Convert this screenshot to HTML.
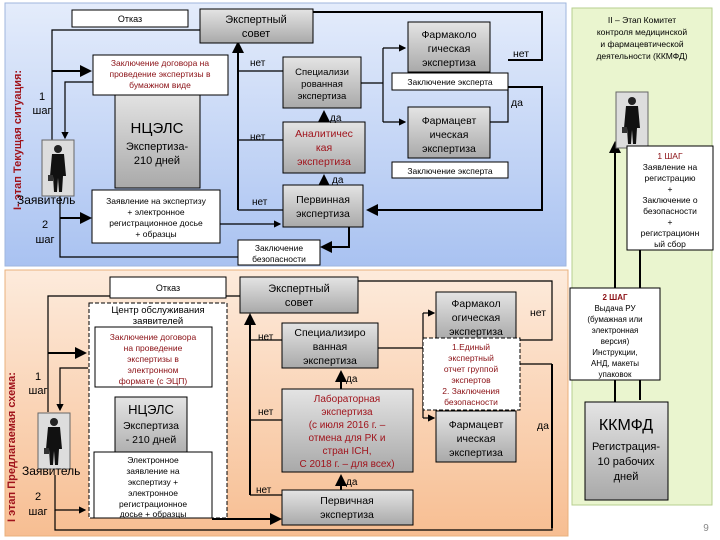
<!DOCTYPE html>
<html><head><meta charset="utf-8"><style>
html,body{margin:0;padding:0;background:#fff;}
svg{display:block;font-family:"Liberation Sans",sans-serif;}
</style></head><body>
<svg width="720" height="540" viewBox="0 0 720 540" xmlns="http://www.w3.org/2000/svg">
<defs>
<linearGradient id="blue" x1="0" y1="0" x2="0" y2="1"><stop offset="0" stop-color="#e4ecfb"/><stop offset="1" stop-color="#a9c2f1"/></linearGradient>
<linearGradient id="orng" x1="0" y1="0" x2="0" y2="1"><stop offset="0" stop-color="#fdebdc"/><stop offset="1" stop-color="#f7be92"/></linearGradient>
<linearGradient id="grey" x1="0" y1="0" x2="0" y2="1"><stop offset="0" stop-color="#e4e4e4"/><stop offset="1" stop-color="#a9a9a9"/></linearGradient>
<marker id="a" markerWidth="6" markerHeight="6" refX="5" refY="3" orient="auto"><path d="M0,0L6,3L0,6z" fill="#000"/></marker>
<g id="man"><rect x="0" y="0" width="32" height="56" fill="#ddd" stroke="#666"/><circle cx="16" cy="9" r="4" fill="#222"/><path d="M10,14h12l2,22h-3l-1,16h-3l-1-14l-1,14h-3l-1-16h-3z" fill="#111"/><rect x="6" y="35" width="5" height="6" fill="#333"/></g>
</defs>
<rect x="5" y="3" width="561" height="263" fill="url(#blue)" stroke="#9fb6de"/>
<rect x="5" y="270" width="563" height="266" fill="url(#orng)" stroke="#e9b07c"/>
<rect x="572" y="8" width="140" height="497" fill="#eaf5cf" stroke="#b7cf8f"/>

<g stroke="#000" stroke-width="1.2" fill="none">
<path d="M52,140V30H200"/>
<path d="M52,71H90" stroke-width="2" marker-end="url(#a)"/>
<path d="M93,82H65V138" marker-end="url(#a)"/>
<path d="M60,218H90" stroke-width="2" marker-end="url(#a)"/>
<path d="M60,195V257H238"/>
<path d="M220,224H280" marker-end="url(#a)"/>
<path d="M238,210V43" stroke-width="2" marker-end="url(#a)"/>
<path d="M238,71H283M238,140H283M238,210H283"/>
<path d="M324,122V112" stroke-width="2" marker-end="url(#a)"/>
<path d="M324,185V176" stroke-width="2" marker-end="url(#a)"/>
<path d="M360,83H383M383,48V122"/>
<path d="M383,48H405" marker-end="url(#a)"/><path d="M383,122H405" marker-end="url(#a)"/>
<path d="M313,12H542V60H508" stroke-width="2"/>
<path d="M508,87H542V210H368" stroke-width="2" marker-end="url(#a)"/>
<path d="M508,87V122H490"/>
<path d="M349,227V247H322" stroke-width="2" marker-end="url(#a)"/>
<path d="M615,245V143" stroke-width="2" marker-end="url(#a)"/>
<path d="M640,140V146"/>
<path d="M640,250V290M615,245V290" stroke-width="2"/>
<path d="M615,380V402M640,380V400" stroke-width="2"/>
<path d="M48,412V296H240"/>
<path d="M48,353H85" stroke-width="2" marker-end="url(#a)"/>
<path d="M88,368H60V410" marker-end="url(#a)"/>
<path d="M55,475V510H85" marker-end="url(#a)"/>
<path d="M55,510V530H552V364"/>
<path d="M212,519H280" stroke-width="2" marker-end="url(#a)"/>
<path d="M250,495V315" stroke-width="2" marker-end="url(#a)"/>
<path d="M250,340H282M250,420H282M250,495H282"/>
<path d="M341,389V372" stroke-width="2" marker-end="url(#a)"/>
<path d="M341,490V476" stroke-width="2" marker-end="url(#a)"/>
<path d="M378,348H423M423,313V418"/>
<path d="M423,313H434" marker-end="url(#a)"/><path d="M423,418H434" marker-end="url(#a)"/>
<path d="M358,281H552V340H516"/>
<path d="M520,364H552M520,404H516"/>
<path d="M552,364V528" stroke-width="2"/>
</g>

<rect x="72" y="10" width="116" height="17" fill="#fff" stroke="#000"/>
<text x="130" y="22" font-size="9" text-anchor="middle">Отказ</text>
<rect x="200" y="9" width="113" height="34" fill="url(#grey)" stroke="#000"/>
<text x="256" y="23" font-size="11" text-anchor="middle">Экспертный</text>
<text x="256" y="37" font-size="11" text-anchor="middle">совет</text>
<text transform="translate(21,210) rotate(-90)" font-size="11" font-weight="bold" fill="#a0141c">I- этап Текущая ситуация:</text>
<rect x="115" y="92" width="85" height="96" fill="url(#grey)" stroke="#000"/>
<rect x="93" y="55" width="135" height="40" fill="#fff" stroke="#000"/>
<g font-size="8.5" fill="#8b1015" text-anchor="middle"><text x="160" y="66">Заключение договора на</text><text x="160" y="77">проведение экспертизы в</text><text x="160" y="88">бумажном виде</text></g>
<text x="157" y="133" font-size="15" text-anchor="middle">НЦЭЛС</text>
<text x="157" y="150" font-size="11" text-anchor="middle">Экспертиза-</text>
<text x="157" y="164" font-size="11" text-anchor="middle">210 дней</text>
<use href="#man" x="42" y="140"/>
<text x="42" y="100" font-size="11" text-anchor="middle">1</text><text x="42" y="114" font-size="11" text-anchor="middle">шаг</text>
<text x="17" y="204" font-size="12">Заявитель</text>
<text x="45" y="228" font-size="11" text-anchor="middle">2</text><text x="45" y="243" font-size="11" text-anchor="middle">шаг</text>
<rect x="92" y="190" width="128" height="53" fill="#fff" stroke="#000"/>
<g font-size="8.5" text-anchor="middle"><text x="156" y="204">Заявление на экспертизу</text><text x="156" y="215">+ электронное</text><text x="156" y="226">регистрационное досье</text><text x="156" y="237">+ образцы</text></g>
<rect x="238" y="240" width="82" height="25" fill="#fff" stroke="#000"/>
<text x="279" y="251" font-size="8.5" text-anchor="middle">Заключение</text><text x="279" y="262" font-size="8.5" text-anchor="middle">безопасности</text>
<rect x="283" y="57" width="78" height="51" fill="url(#grey)" stroke="#000"/>
<g font-size="9.5" text-anchor="middle"><text x="322" y="75">Специализи</text><text x="322" y="87">рованная</text><text x="322" y="99">экспертиза</text></g>
<rect x="283" y="122" width="82" height="51" fill="url(#grey)" stroke="#000"/>
<g font-size="10.5" text-anchor="middle" fill="#a0141c"><text x="324" y="137">Аналитичес</text><text x="324" y="151">кая</text><text x="324" y="165">экспертиза</text></g>
<rect x="283" y="185" width="80" height="42" fill="url(#grey)" stroke="#000"/>
<text x="323" y="203" font-size="10.5" text-anchor="middle">Первинная</text><text x="323" y="217" font-size="10.5" text-anchor="middle">экспертиза</text>
<g font-size="10"><text x="250" y="66">нет</text><text x="250" y="140">нет</text><text x="252" y="205">нет</text><text x="330" y="121">да</text><text x="332" y="183">да</text></g>
<rect x="408" y="22" width="82" height="50" fill="url(#grey)" stroke="#000"/>
<g font-size="10.5" text-anchor="middle"><text x="449" y="38">Фармаколо</text><text x="449" y="52">гическая</text><text x="449" y="66">экспертиза</text></g>
<rect x="392" y="73" width="116" height="17" fill="#fff" stroke="#000"/>
<text x="450" y="85" font-size="8.5" text-anchor="middle">Заключение эксперта</text>
<rect x="408" y="107" width="82" height="51" fill="url(#grey)" stroke="#000"/>
<g font-size="10.5" text-anchor="middle"><text x="449" y="124">Фармацевт</text><text x="449" y="138">ическая</text><text x="449" y="152">экспертиза</text></g>
<rect x="392" y="162" width="116" height="16" fill="#fff" stroke="#000"/>
<text x="450" y="174" font-size="8.5" text-anchor="middle">Заключение эксперта</text>
<text x="513" y="57" font-size="10.5">нет</text><text x="511" y="106" font-size="10.5">да</text>

<g font-size="8.5" text-anchor="middle"><text x="642" y="23">II – Этап  Комитет</text><text x="642" y="35">контроля медицинской</text><text x="642" y="47">и фармацевтической</text><text x="642" y="59">деятельности (ККМФД)</text></g>
<use href="#man" x="616" y="92"/>
<rect x="627" y="146" width="86" height="104" fill="#fff" stroke="#000"/>
<g font-size="8.5" text-anchor="middle"><text x="670" y="159" fill="#8b1015">1 ШАГ</text><text x="670" y="170">Заявление на</text><text x="670" y="181">регистрацию</text><text x="670" y="192">+</text><text x="670" y="203">Заключение о</text><text x="670" y="214">безопасности</text><text x="670" y="225">+</text><text x="670" y="236">регистрационн</text><text x="670" y="247">ый сбор</text></g>
<rect x="570" y="288" width="90" height="92" fill="#fff" stroke="#000"/>
<g font-size="8" text-anchor="middle"><text x="615" y="300" fill="#8b1015" font-weight="bold">2 ШАГ</text><text x="615" y="311">Выдача РУ</text><text x="615" y="322">(бумажная или</text><text x="615" y="333">электронная</text><text x="615" y="344">версия)</text><text x="615" y="355">Инструкции,</text><text x="615" y="366">АНД, макеты</text><text x="615" y="377">упаковок</text></g>
<rect x="585" y="402" width="83" height="98" fill="url(#grey)" stroke="#000"/>
<text x="626" y="430" font-size="16" text-anchor="middle">ККМФД</text>
<g font-size="11" text-anchor="middle"><text x="626" y="450">Регистрация-</text><text x="626" y="465">10 рабочих</text><text x="626" y="480">дней</text></g>
<text x="706" y="531" font-size="10" fill="#888" text-anchor="middle">9</text>

<rect x="110" y="277" width="116" height="21" fill="#fff" stroke="#000"/>
<text x="168" y="291" font-size="9" text-anchor="middle">Отказ</text>
<rect x="240" y="277" width="118" height="36" fill="url(#grey)" stroke="#000"/>
<text x="299" y="292" font-size="11" text-anchor="middle">Экспертный</text><text x="299" y="306" font-size="11" text-anchor="middle">совет</text>
<text transform="translate(15,522) rotate(-90)" font-size="11" font-weight="bold" fill="#a0141c">I этап Предлагаемая схема:</text>
<rect x="89" y="303" width="138" height="215" fill="#fff" stroke="#000" stroke-dasharray="4,2"/>
<text x="158" y="313" font-size="9.5" text-anchor="middle">Центр обслуживания</text><text x="158" y="324" font-size="9.5" text-anchor="middle">заявителей</text>
<rect x="95" y="327" width="117" height="60" fill="#fff" stroke="#000"/>
<g font-size="8.5" fill="#8b1015" text-anchor="middle"><text x="153" y="340">Заключение договора</text><text x="153" y="351">на проведение</text><text x="153" y="362">экспертизы в</text><text x="153" y="373">электронном</text><text x="153" y="384">формате (с ЭЦП)</text></g>
<rect x="115" y="397" width="72" height="63" fill="url(#grey)" stroke="#000"/>
<text x="151" y="414" font-size="13" text-anchor="middle">НЦЭЛС</text><text x="151" y="429" font-size="10.5" text-anchor="middle">Экспертиза</text><text x="151" y="443" font-size="10.5" text-anchor="middle">- 210 дней</text>
<rect x="94" y="452" width="118" height="66" fill="#fff" stroke="#000"/>
<g font-size="8.5" text-anchor="middle"><text x="153" y="463">Электронное</text><text x="153" y="474">заявление на</text><text x="153" y="485">экспертизу +</text><text x="153" y="496">электронное</text><text x="153" y="507">регистрационное</text><text x="153" y="517">досье + образцы</text></g>
<use href="#man" x="38" y="413"/>
<text x="38" y="380" font-size="11" text-anchor="middle">1</text><text x="38" y="394" font-size="11" text-anchor="middle">шаг</text>
<text x="22" y="475" font-size="12">Заявитель</text>
<text x="38" y="500" font-size="11" text-anchor="middle">2</text><text x="38" y="515" font-size="11" text-anchor="middle">шаг</text>
<rect x="282" y="323" width="96" height="45" fill="url(#grey)" stroke="#000"/>
<g font-size="10.5" text-anchor="middle"><text x="330" y="336">Специализиро</text><text x="330" y="350">ванная</text><text x="330" y="364">экспертиза</text></g>
<rect x="282" y="389" width="131" height="83" fill="url(#grey)" stroke="#000"/>
<g font-size="10" text-anchor="middle" fill="#a0141c"><text x="347" y="402">Лабораторная</text><text x="347" y="415">экспертиза</text><text x="347" y="428">(с июля 2016 г. –</text><text x="347" y="441">отмена для РК и</text><text x="347" y="454">стран ICH,</text><text x="347" y="467">С 2018 г. – для всех)</text></g>
<rect x="282" y="490" width="131" height="35" fill="url(#grey)" stroke="#000"/>
<text x="347" y="504" font-size="10.5" text-anchor="middle">Первичная</text><text x="347" y="518" font-size="10.5" text-anchor="middle">экспертиза</text>
<g font-size="10"><text x="258" y="340">нет</text><text x="258" y="415">нет</text><text x="256" y="493">нет</text><text x="346" y="382">да</text><text x="346" y="485">да</text></g>
<rect x="436" y="292" width="80" height="48" fill="url(#grey)" stroke="#000"/>
<g font-size="10.5" text-anchor="middle"><text x="476" y="307">Фармакол</text><text x="476" y="321">огическая</text><text x="476" y="335">экспертиза</text></g>
<rect x="436" y="411" width="80" height="51" fill="url(#grey)" stroke="#000"/>
<g font-size="10.5" text-anchor="middle"><text x="476" y="428">Фармацевт</text><text x="476" y="442">ическая</text><text x="476" y="456">экспертиза</text></g>
<rect x="423" y="338" width="97" height="72" fill="#fff" stroke="#000" stroke-dasharray="4,2"/>
<g font-size="8.5" fill="#8b1015" text-anchor="middle"><text x="471" y="350">1.Единый</text><text x="471" y="361">экспертный</text><text x="471" y="372">отчет группой</text><text x="471" y="383">экспертов</text><text x="471" y="394">2. Заключения</text><text x="471" y="405">безопасности</text></g>
<text x="530" y="316" font-size="10.5">нет</text><text x="537" y="429" font-size="10.5">да</text>
</svg>
</body></html>
